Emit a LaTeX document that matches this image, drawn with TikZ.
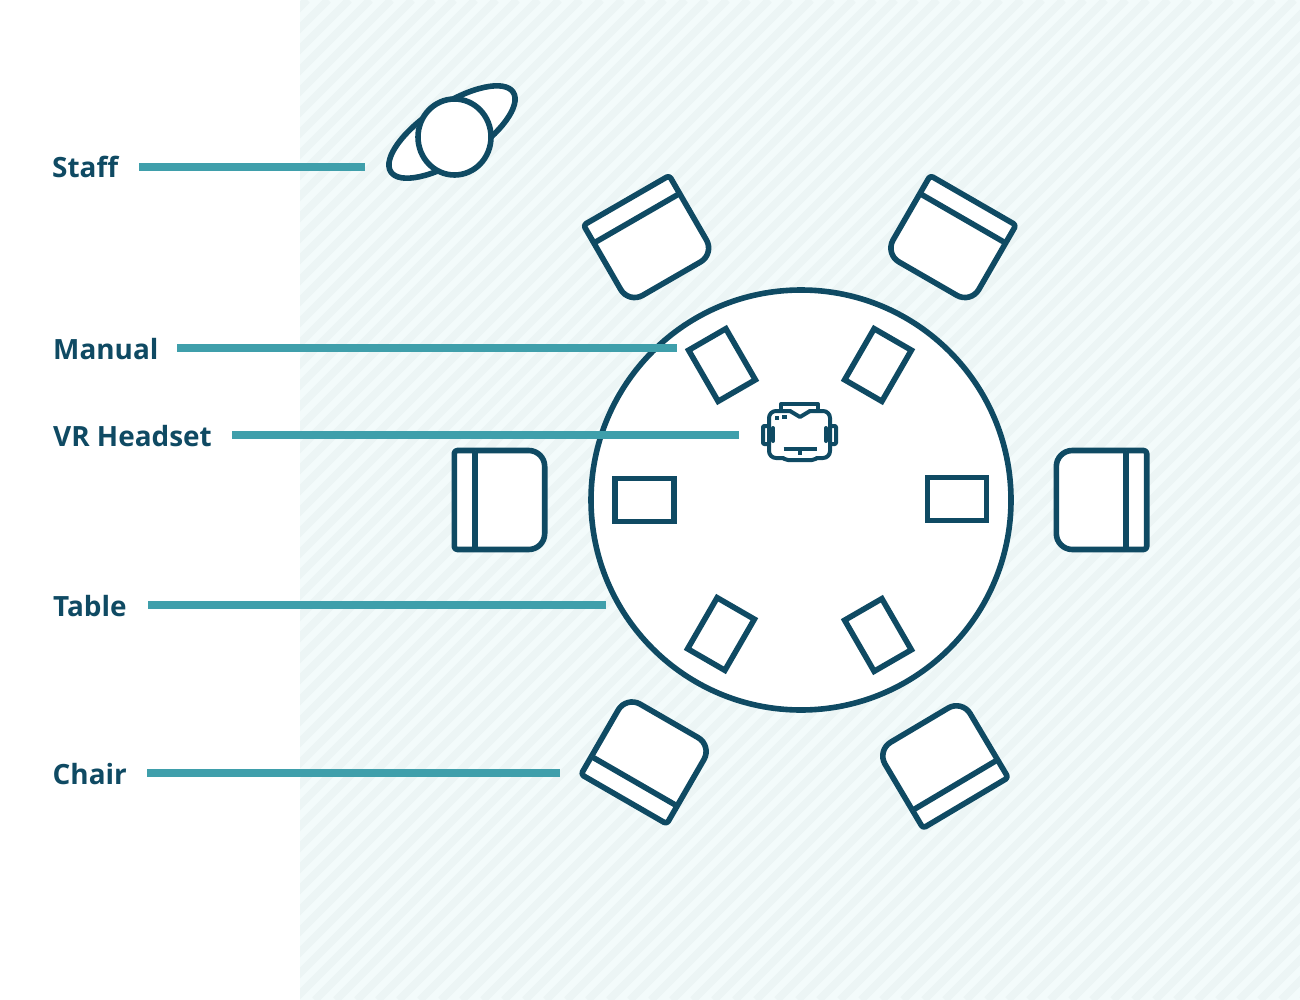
\documentclass[tikz,border=0pt]{standalone}
\usepackage{fontspec}
\setmainfont{Open Sans}
\definecolor{navy}{HTML}{0F4A63}
\definecolor{teal2}{HTML}{3F9FAB}
\definecolor{bgA}{HTML}{F3FBFB}
\definecolor{bgB}{HTML}{ECF5F5}
\tikzset{
  outl/.style={draw=navy,line width=5.6pt,line join=round,fill=white},
  thin outl/.style={draw=navy,line width=4pt,line join=round,line cap=round},
  leader/.style={draw=teal2,line width=7.5pt},
  lbl/.style={text=navy,font=\fontsize{27.9}{32}\selectfont\bfseries,anchor=base west,inner sep=0pt},
}
\newcommand{\chairat}[3]{%
  \begin{scope}[shift={(#1,#2)},rotate=#3]
    \draw[outl] [rounded corners=3pt] (-45.2,0) -- (-45.2,-49.5) [rounded corners=16pt] -- (45.2,-49.5) -- (45.2,49.5) [rounded corners=3pt] -- (-45.2,49.5) -- cycle;
    \draw[outl] (-24.5,-49.5) -- (-24.5,49.5);
  \end{scope}}
\newcommand{\manualat}[3]{%
  \begin{scope}[shift={(#1,#2)},rotate=#3]
    \draw[outl,line join=miter] (-29.5,-21.5) rectangle (29.5,21.5);
  \end{scope}}
\begin{document}
\begin{tikzpicture}[x=1pt,y=-1pt]
\useasboundingbox (0,0) rectangle (1300,1000);
\fill[white] (0,0) rectangle (1300,1000);
\begin{scope}
  \clip (300,0) rectangle (1300,1000);
  \fill[bgA] (300,0) rectangle (1300,1000);
  \foreach \k in {-50,...,100}
    \draw[bgB,line width=7.5pt] ({\k*21},1000) -- ({\k*21+1000},0);
\end{scope}
% table
\node[circle,outl,minimum size=420pt,inner sep=0pt] (table) at (801,500) {};
% chairs
\chairat{499.5}{500}{0}
\chairat{649}{239.5}{-60}
\chairat{950.5}{239.5}{-120}
\chairat{1101.5}{500}{180}
\chairat{942.5}{764}{120.7}
\chairat{646.5}{760}{60}
% manuals
\manualat{644.5}{500}{0}
\manualat{722}{365}{-60}
\manualat{878}{365}{-120}
\manualat{957}{499}{0}
\manualat{878}{635}{120}
\manualat{721}{634}{60}
% staff
\draw[outl] (452,132) ellipse[x radius=73,y radius=28,rotate=33];
\draw[outl] (454.5,137) ellipse[x radius=36.5,y radius=38];
% headset
\draw[thin outl,fill=white] (781,409) -- (781,404) -- (818,404) -- (818,409);
\draw[thin outl,fill=white,rounded corners=1pt] (769,426) -- (763,426) -- (763,444) -- (769,444);
\draw[thin outl,fill=white,rounded corners=1pt] (830,426) -- (836,426) -- (836,444) -- (830,444);
\draw[thin outl] (773,428) -- (773,441);
\draw[thin outl] (826,428) -- (826,441);
\draw[thin outl,rounded corners=7pt] (769,420) -- (769,411) -- (790,411);
\draw[thin outl] (790,411) -- (800,417) -- (810,411);
\draw[thin outl,rounded corners=7pt] (810,411) -- (830,411) -- (830,458) -- (817,458);
\draw[thin outl,rounded corners=2pt] (817,458) -- (814,460) -- (786,460) -- (783,458);
\draw[thin outl,rounded corners=7pt] (783,458) -- (769,458) -- (769,420);
\draw[thin outl,line width=4.5pt,line cap=butt] (783.5,449) -- (816.5,449);
\draw[thin outl,line cap=butt] (799.5,449) -- (799.5,455);
\draw[thin outl,line cap=butt] (775,418) -- (779,418);
\draw[thin outl,line cap=butt] (782,416.5) -- (787,416.5);
% labels
\path (52,178) node[lbl] (lstaff) {Staff};
\path (53,359) node[lbl] (lmanual) {Manual};
\path (53,446) node[lbl] (lvr) {VR Headset};
\path (53,616) node[lbl] (ltable) {Table};
\path (52.5,784) node[lbl] (lchair) {Chair};
% leaders
\coordinate (a1) at (139,167); \coordinate (b1) at (365,167);
\coordinate (a2) at (177,348); \coordinate (b2) at (677,348);
\coordinate (a3) at (232,435); \coordinate (b3) at (739,435);
\coordinate (a4) at (148,605); \coordinate (b4) at (606,605);
\coordinate (a5) at (147,773); \coordinate (b5) at (560,773);
\draw[leader] (a1) -- (b1);
\draw[leader] (a2) -- (b2);
\draw[leader] (a3) -- (b3);
\draw[leader] (a4) -- (b4);
\draw[leader] (a5) -- (b5);
\end{tikzpicture}
\end{document}
